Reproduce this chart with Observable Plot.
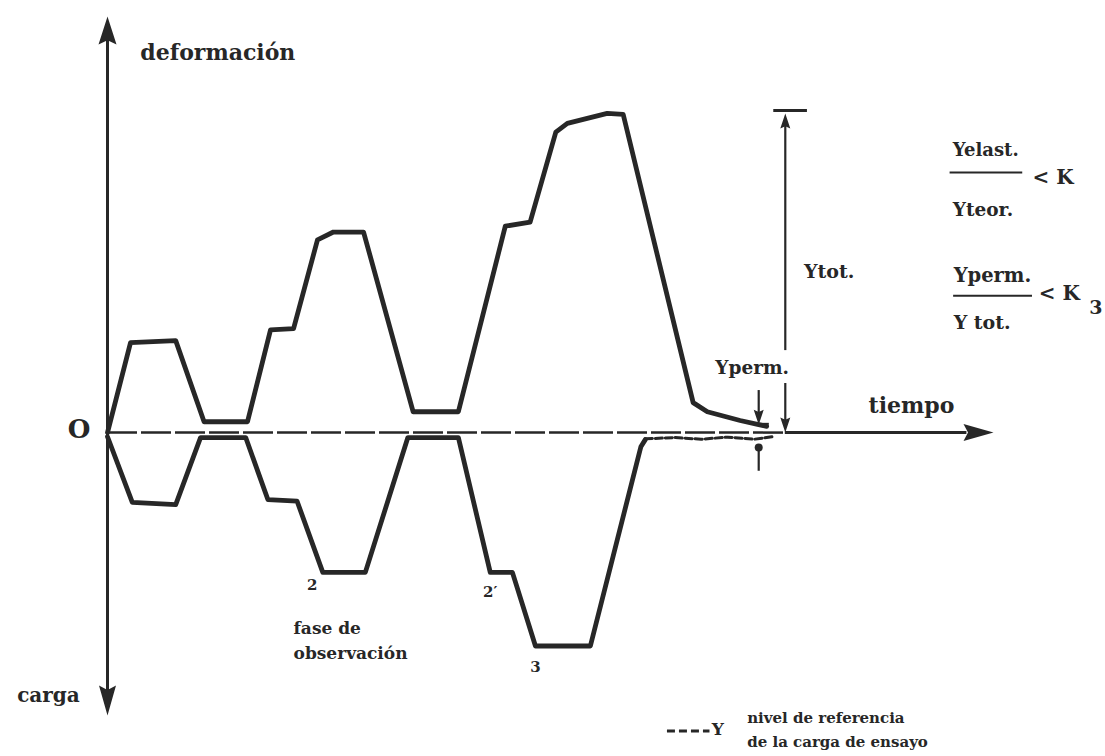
<!DOCTYPE html>
<html><head><meta charset="utf-8">
<script src="https://cdn.jsdelivr.net/npm/d3@7"></script>
<script src="https://cdn.jsdelivr.net/npm/@observablehq/plot@0.6"></script>
<style>body{margin:0;background:#fff} svg{display:block}</style>
</head><body><div id="chart"></div>
<script>
// Deformation curve (time, deformation) – arbitrary units
const tiempoDeformacion = [0, 2.6, 7.7, 10.9, 15.8, 18.4, 21.0, 23.7, 25.5, 28.9, 34.5, 39.6, 44.9, 47.7, 50.6, 51.9, 56.4, 58.2, 66.1, 67.7, 71.4, 73.5, 74.4];
const valorDeformacion  = [0, 21.6, 22.1, 2.6, 2.6, 24.7, 25.0, 46.3, 48.2, 48.2, 5.0, 5.0, 49.6, 50.6, 72.2, 74.3, 76.7, 76.5, 7.2, 5.0, 2.9, 1.9, 1.5];
// Load curve (drawn downward, negative values)
const tiempoCarga = [0, 2.8, 7.7, 10.5, 15.6, 18.1, 21.4, 24.3, 29.1, 33.9, 39.6, 43.2, 45.7, 48.3, 54.5, 60.2, 60.7];
const valorCarga  = [-1.0, -16.8, -17.3, -1.2, -1.2, -16.1, -16.5, -33.6, -33.6, -1.2, -1.2, -33.6, -33.6, -51.3, -51.3, -3.4, -1.7];
// residual trace along the reference level
const tiempoResidual = [60.7, 64, 67, 70, 73, 75];
const valorResidual  = [-1.5, -1.2, -1.6, -1.1, -1.6, -1.0];
// key values
const yTot = 76.7, yPerm = 1.9, tMedida = 76.5, tPerm = 73.5;
const yMax = 100, yMin = -68, tMax = 100;

const deformacion = tiempoDeformacion.map((t, i) => ({t, v: valorDeformacion[i]}));
const carga = tiempoCarga.map((t, i) => ({t, v: valorCarga[i]}));
const residual = tiempoResidual.map((t, i) => ({t, v: valorResidual[i]}));

const ink = "#272727";
const serif = "'DejaVu Serif', 'Liberation Serif', serif";

// filled arrow heads (tip at the point)
const head = (dx, dy, len, hw) => ({draw(ctx) {
  const px = -dy, py = dx;
  ctx.moveTo(0, 0);
  ctx.lineTo(-dx * len + px * hw, -dy * len + py * hw);
  ctx.lineTo(-dx * len * 0.85, -dy * len * 0.85);
  ctx.lineTo(-dx * len - px * hw, -dy * len - py * hw);
  ctx.closePath();
}});
const upBig = head(0, -1, 28, 9), downBig = head(0, 1, 30, 8.5), rightBig = head(1, 0, 30, 8.5);
const upSm = head(0, -1, 15, 5), downSm = head(0, 1, 15, 5);

const txt = (data, o) => Plot.text(data, {fontFamily: serif, fontWeight: "bold", fill: ink, textAnchor: "start", ...o});

const chart = Plot.plot({
  width: 1105, height: 756,
  marginLeft: 107, marginRight: 112, marginTop: 16, marginBottom: 41,
  x: {domain: [0, tMax], axis: null},
  y: {domain: [yMin, yMax], axis: null},
  style: {background: "#fff"},
  marks: [
    // axes
    Plot.ruleX([0], {y1: yMin + 6, y2: yMax - 5, stroke: ink, strokeWidth: 3}),
    Plot.dot([{t: 0, v: yMax}], {x: "t", y: "v", symbol: upBig, fill: ink, stroke: "none"}),
    Plot.dot([{t: 0, v: yMin}], {x: "t", y: "v", symbol: downBig, fill: ink, stroke: "none"}),
    Plot.ruleY([0], {x1: 0, x2: tMedida, stroke: ink, strokeWidth: 2.5, strokeDasharray: "30,4"}),
    Plot.ruleY([0], {x1: tMedida, x2: tMax - 3, stroke: ink, strokeWidth: 3}),
    Plot.dot([{t: tMax, v: 0}], {x: "t", y: "v", symbol: rightBig, fill: ink, stroke: "none"}),
    // curves
    Plot.line(deformacion, {x: "t", y: "v", stroke: ink, strokeWidth: 4.8, strokeLinejoin: "round", strokeLinecap: "round"}),
    Plot.line(carga, {x: "t", y: "v", stroke: ink, strokeWidth: 4.8, strokeLinejoin: "round", strokeLinecap: "round"}),
    Plot.line(residual, {x: "t", y: "v", stroke: ink, strokeWidth: 3, strokeDasharray: "7,3"}),
    // Ytot measure
    Plot.ruleY([yTot + 0.7], {x1: tMedida - 1.3, x2: tMedida + 2.5, stroke: ink, strokeWidth: 3}),
    Plot.ruleX([tMedida], {y1: 19.7, y2: yTot - 2, stroke: ink, strokeWidth: 2.2}),
    Plot.dot([{t: tMedida, v: yTot}], {x: "t", y: "v", symbol: upSm, fill: ink, stroke: "none"}),
    Plot.ruleX([tMedida], {y1: 2, y2: 11.8, stroke: ink, strokeWidth: 2.2}),
    Plot.dot([{t: tMedida, v: 0}], {x: "t", y: "v", symbol: downSm, fill: ink, stroke: "none"}),
    // Yperm measure
    Plot.ruleX([tPerm], {y1: yPerm + 2, y2: 10.1, stroke: ink, strokeWidth: 2.2}),
    Plot.dot([{t: tPerm, v: yPerm}], {x: "t", y: "v", symbol: downSm, fill: ink, stroke: "none"}),
    Plot.ruleY([yPerm + 0.2], {x1: tPerm, x2: tPerm + 1.2, stroke: ink, strokeWidth: 2}),
    Plot.ruleX([tPerm], {y1: -9.3, y2: -3.5, stroke: ink, strokeWidth: 2.2}),
    Plot.dot([{t: tPerm, v: -3.6}], {x: "t", y: "v", r: 4, fill: ink, stroke: "none"}),
    // formulas
    Plot.ruleY([62.5], {x1: 95.1, x2: 103.3, stroke: ink, strokeWidth: 2}),
    Plot.ruleY([32.9], {x1: 95.5, x2: 104.4, stroke: ink, strokeWidth: 2}),
    // labels
    txt(["deformación"], {x: 3.7, y: 91.3, fontSize: 22}),
    txt(["O"], {x: -3.2, y: 0.6, fontSize: 26, textAnchor: "middle"}),
    txt(["carga"], {x: -10.2, y: -63.2, fontSize: 20}),
    txt(["tiempo"], {x: 85.9, y: 6.5, fontSize: 22}),
    txt(["Ytot."], {x: 78.6, y: 38.5, fontSize: 19}),
    txt(["Yperm."], {x: 68.6, y: 15.6, fontSize: 18.5}),
    txt(["Yelast."], {x: 95.4, y: 67.8, fontSize: 18}),
    txt(["< K"], {x: 104.4, y: 61.3, fontSize: 20}),
    txt(["Yteor."], {x: 95.4, y: 53.4, fontSize: 18.5}),
    txt(["Yperm."], {x: 95.5, y: 37.7, fontSize: 19.5}),
    txt(["< K"], {x: 105.1, y: 33.4, fontSize: 20}),
    txt(["3"], {x: 110.8, y: 30.0, fontSize: 19}),
    txt(["Y tot."], {x: 95.5, y: 26.4, fontSize: 19}),
    txt(["2"], {x: 23.1, y: -36.7, fontSize: 15, textAnchor: "middle"}),
    txt(["2′"], {x: 43.2, y: -38.4, fontSize: 15, textAnchor: "middle"}),
    txt(["3"], {x: 48.3, y: -56.4, fontSize: 15, textAnchor: "middle"}),
    txt(["fase de"], {x: 21.0, y: -47.1, fontSize: 17}),
    txt(["observación"], {x: 21.0, y: -53.1, fontSize: 17}),
    // legend
    Plot.ruleY([-71.7], {x1: 63.2, x2: 68.0, stroke: ink, strokeWidth: 3, strokeDasharray: "8,4"}),
    txt(["Y"], {x: 68.2, y: -71.3, fontSize: 17}),
    txt(["nivel de referencia"], {x: 72.2, y: -68.7, fontSize: 15}),
    txt(["de la carga de ensayo"], {x: 72.2, y: -74.5, fontSize: 15})
  ]
});
document.getElementById("chart").append(chart);
</script>
</body></html>
